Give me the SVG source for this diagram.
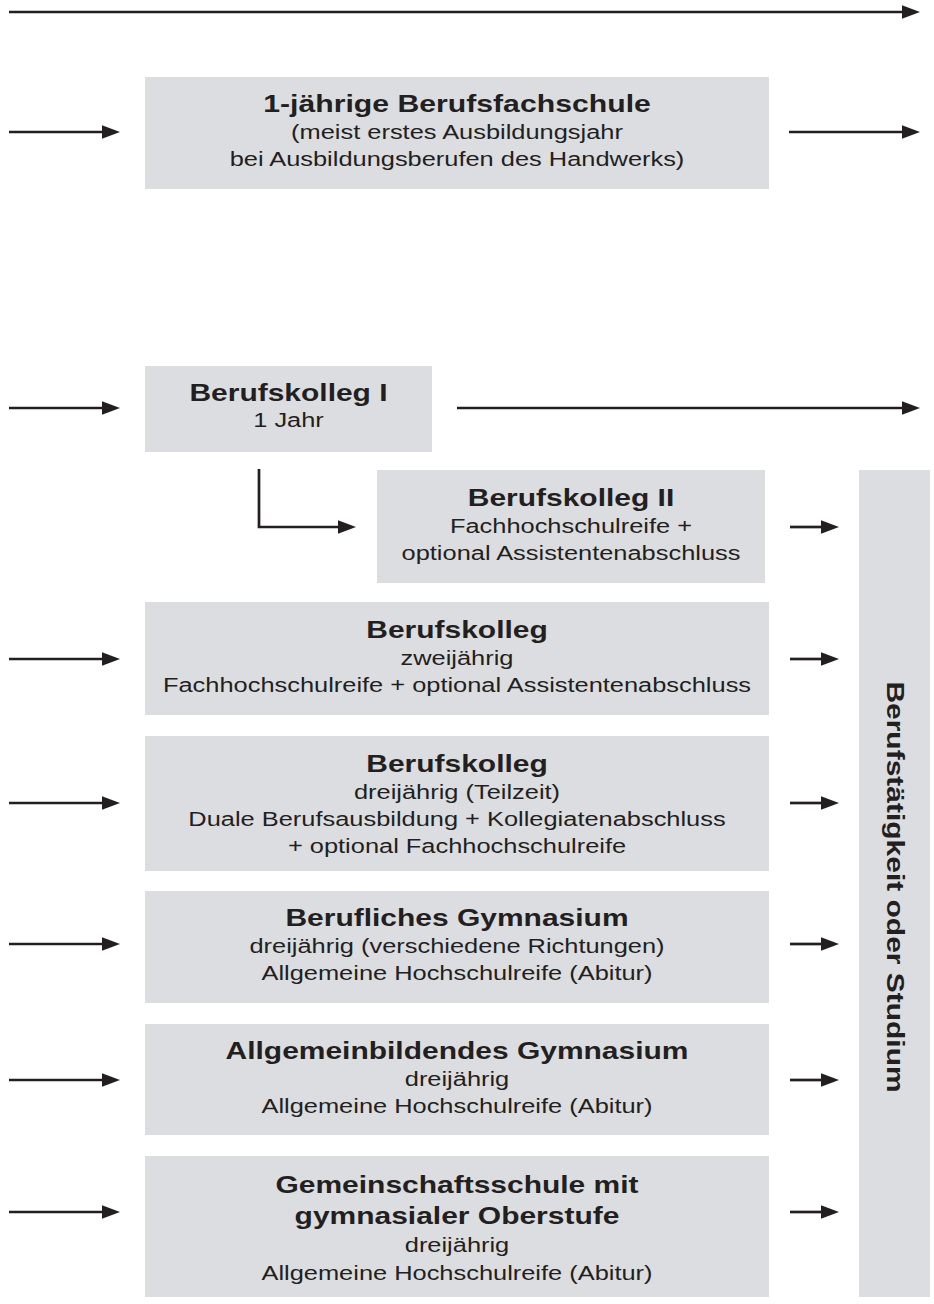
<svg xmlns="http://www.w3.org/2000/svg" width="934" height="1304" viewBox="0 0 934 1304">
<defs>
<style>
.box{fill:#dcdde0}
.t{font-family:"Liberation Sans",Arial,sans-serif;font-weight:bold;font-size:23.6px;fill:#231f20;text-anchor:middle}
.s{font-family:"Liberation Sans",Arial,sans-serif;font-size:20px;fill:#231f20;text-anchor:middle}
.a{stroke:#231f20;stroke-width:2.7;fill:none;marker-end:url(#ah)}
</style>
<marker id="ah" markerUnits="userSpaceOnUse" markerWidth="18" markerHeight="14" refX="0" refY="7" orient="auto" overflow="visible">
<path d="M0,0.3 L18,7 L0,13.7 z" fill="#231f20"/>
</marker>
</defs>
<rect width="934" height="1304" fill="#ffffff"/>
<g id="connectors">
<line class="a" x1="9" y1="12" x2="902" y2="12"/>
<line class="a" x1="9" y1="132" x2="102" y2="132"/>
<line class="a" x1="789" y1="132" x2="902" y2="132"/>
<line class="a" x1="9" y1="408" x2="102" y2="408"/>
<line class="a" x1="457" y1="408" x2="902" y2="408"/>
<polyline class="a" points="259,469 259,527 338,527"/>
<line class="a" x1="790" y1="527" x2="821" y2="527"/>
<line class="a" x1="9" y1="659" x2="102" y2="659"/>
<line class="a" x1="790" y1="659" x2="821" y2="659"/>
<line class="a" x1="9" y1="803" x2="102" y2="803"/>
<line class="a" x1="790" y1="803" x2="821" y2="803"/>
<line class="a" x1="9" y1="944" x2="102" y2="944"/>
<line class="a" x1="790" y1="944" x2="821" y2="944"/>
<line class="a" x1="9" y1="1080" x2="102" y2="1080"/>
<line class="a" x1="790" y1="1080" x2="821" y2="1080"/>
<line class="a" x1="9" y1="1212" x2="102" y2="1212"/>
<line class="a" x1="790" y1="1212" x2="821" y2="1212"/>
</g>
<g id="n-bfs1">
<rect class="box" x="145" y="77" width="624" height="112"/>
<text class="t" transform="translate(457,112) scale(1.28,1)">1-jährige Berufsfachschule</text>
<text class="s" transform="translate(457,139) scale(1.27,1)">(meist erstes Ausbildungsjahr</text>
<text class="s" transform="translate(457,166) scale(1.27,1)">bei Ausbildungsberufen des Handwerks)</text>
</g>
<g id="n-bk1">
<rect class="box" x="145" y="366" width="287" height="86"/>
<text class="t" transform="translate(288.5,401) scale(1.27,1)">Berufskolleg I</text>
<text class="s" transform="translate(288.5,427) scale(1.27,1)">1 Jahr</text>
</g>
<g id="n-bk2">
<rect class="box" x="377" y="470" width="388" height="113"/>
<text class="t" transform="translate(571,506) scale(1.27,1)">Berufskolleg II</text>
<text class="s" transform="translate(571,533) scale(1.27,1)">Fachhochschulreife +</text>
<text class="s" transform="translate(571,560) scale(1.27,1)">optional Assistentenabschluss</text>
</g>
<g id="n-bkzwei">
<rect class="box" x="145" y="602" width="624" height="113"/>
<text class="t" transform="translate(457,638) scale(1.27,1)">Berufskolleg</text>
<text class="s" transform="translate(457,665) scale(1.27,1)">zweijährig</text>
<text class="s" transform="translate(457,692) scale(1.27,1)">Fachhochschulreife + optional Assistentenabschluss</text>
</g>
<g id="n-bkdrei">
<rect class="box" x="145" y="736" width="624" height="135"/>
<text class="t" transform="translate(457,772) scale(1.27,1)">Berufskolleg</text>
<text class="s" transform="translate(457,799) scale(1.27,1)">dreijährig (Teilzeit)</text>
<text class="s" transform="translate(457,826) scale(1.27,1)">Duale Berufsausbildung + Kollegiatenabschluss</text>
<text class="s" transform="translate(457,853) scale(1.27,1)">+ optional Fachhochschulreife</text>
</g>
<g id="n-bg">
<rect class="box" x="145" y="891" width="624" height="112"/>
<text class="t" transform="translate(457,926) scale(1.27,1)">Berufliches Gymnasium</text>
<text class="s" transform="translate(457,953) scale(1.27,1)">dreijährig (verschiedene Richtungen)</text>
<text class="s" transform="translate(457,980) scale(1.27,1)">Allgemeine Hochschulreife (Abitur)</text>
</g>
<g id="n-ag">
<rect class="box" x="145" y="1024" width="624" height="111"/>
<text class="t" transform="translate(457,1059) scale(1.27,1)">Allgemeinbildendes Gymnasium</text>
<text class="s" transform="translate(457,1086) scale(1.27,1)">dreijährig</text>
<text class="s" transform="translate(457,1113) scale(1.27,1)">Allgemeine Hochschulreife (Abitur)</text>
</g>
<g id="n-gs">
<rect class="box" x="145" y="1156" width="624" height="141"/>
<text class="t" transform="translate(457,1193) scale(1.27,1)">Gemeinschaftsschule mit</text>
<text class="t" transform="translate(457,1224) scale(1.27,1)">gymnasialer Oberstufe</text>
<text class="s" transform="translate(457,1252) scale(1.27,1)">dreijährig</text>
<text class="s" transform="translate(457,1280) scale(1.27,1)">Allgemeine Hochschulreife (Abitur)</text>
</g>
<g id="n-beruf">
<rect class="box" x="859" y="470" width="71" height="827"/>
<text class="t" transform="translate(887,887) rotate(90) scale(1.27,1)">Berufstätigkeit oder Studium</text>
</g>
</svg>
